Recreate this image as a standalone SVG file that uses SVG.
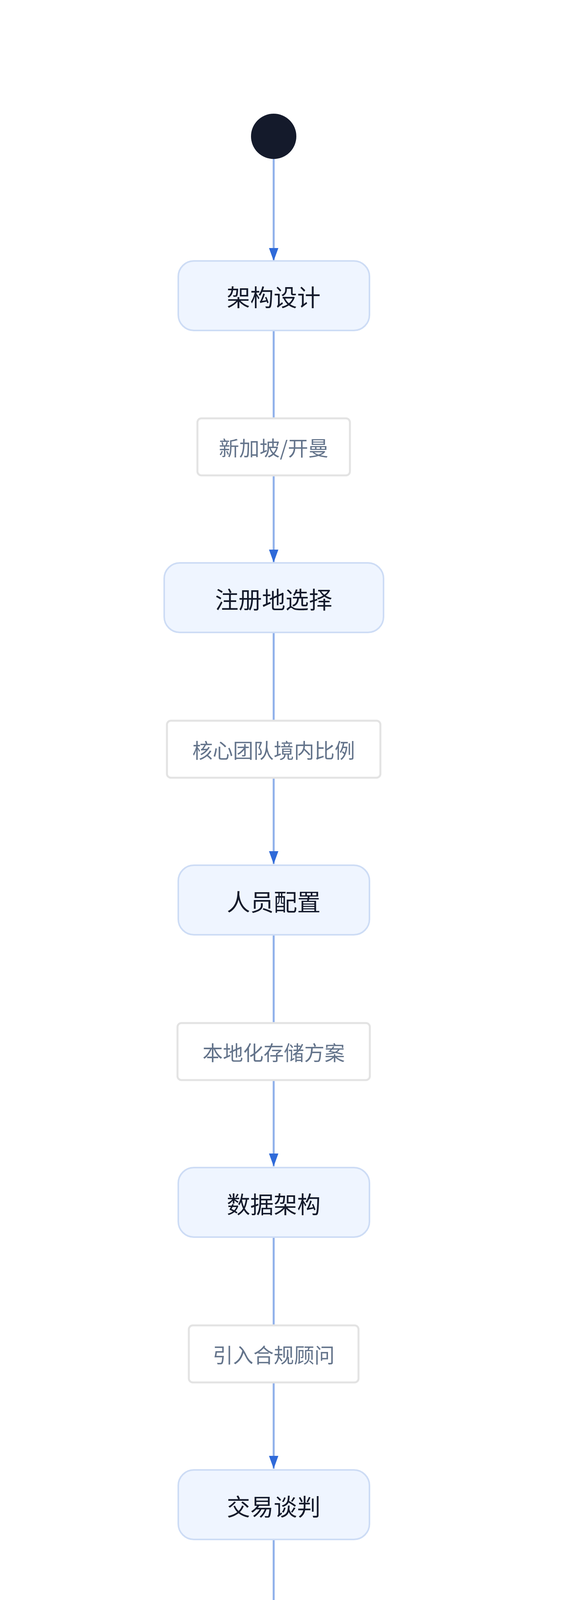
<svg xmlns="http://www.w3.org/2000/svg" width="1504" height="6544" viewBox="0 0 1504 6544">
<style>
.n rect{fill:#eff5ff;stroke:#cddcf5;stroke-width:4}
.n text{font-family:"Noto Sans CJK SC","Noto Sans",sans-serif;font-size:60px;fill:#141a2b;text-anchor:middle;dominant-baseline:central}
.l rect{fill:#fff;stroke:#e3e3e3;stroke-width:5}
.l text{font-family:"Noto Sans CJK SC","Noto Sans",sans-serif;font-size:52px;fill:#64748b;text-anchor:middle;dominant-baseline:central}
.e path{fill:none;stroke:#8fb0ea;stroke-width:5}
</style>
<defs>
<marker id="a" markerUnits="userSpaceOnUse" markerWidth="34" markerHeight="26" refX="33" refY="12" orient="auto"><path d="M0,0 L33,12 L0,24 z" fill="#2f6ad9"/></marker>
</defs>
<rect width="1504" height="6544" fill="#fff"/>
<g class="e">
<path d="M700,407 V668" marker-end="url(#a)"/>
<path d="M700,846 V1071"/><path d="M700,1217 V1440" marker-end="url(#a)"/>
<path d="M700,1620 V1845"/><path d="M700,1991 V2212" marker-end="url(#a)"/>
<path d="M700,2394 V2619"/><path d="M700,2765 V2986" marker-end="url(#a)"/>
<path d="M700,3168 V3393"/><path d="M700,3539 V3760" marker-end="url(#a)"/>
<path d="M700,3942 V4167"/><path d="M700,4313 V4536" marker-end="url(#a)"/>
<path d="M621,4716 V4907 H456 V4942"/><path d="M456,5088 V5315" marker-end="url(#a)"/>
<path d="M782,4716 V4907 H946 V4942"/><path d="M946,5088 V5315" marker-end="url(#a)"/>
<path d="M456,5493 V5744" marker-end="url(#a)"/>
<path d="M946,5493 V5714"/><path d="M946,5860 V6087" marker-end="url(#a)"/>
</g>
<g id="start"><circle cx="700" cy="349" r="58" fill="#141a2b"/></g>
<g id="n1" class="n"><rect x="456" y="668" width="489" height="178" rx="40"/><text x="700" y="757">架构设计</text></g>
<g id="l1" class="l"><rect x="505" y="1071" width="390" height="146" rx="10"/><text x="700" y="1144">新加坡/开曼</text></g>
<g id="n2" class="n"><rect x="420" y="1441" width="561" height="178" rx="40"/><text x="700" y="1531">注册地选择</text></g>
<g id="l2" class="l"><rect x="427" y="1845" width="546" height="146" rx="10"/><text x="700" y="1918">核心团队境内比例</text></g>
<g id="n3" class="n"><rect x="456" y="2215" width="489" height="178" rx="40"/><text x="700" y="2305">人员配置</text></g>
<g id="l3" class="l"><rect x="454" y="2619" width="492" height="146" rx="10"/><text x="700" y="2692">本地化存储方案</text></g>
<g id="n4" class="n"><rect x="456" y="2989" width="489" height="178" rx="40"/><text x="700" y="3079">数据架构</text></g>
<g id="l4" class="l"><rect x="483" y="3393" width="434" height="146" rx="10"/><text x="700" y="3466">引入合规顾问</text></g>
<g id="n5" class="n"><rect x="456" y="3763" width="489" height="178" rx="40"/><text x="700" y="3853">交易谈判</text></g>
<g id="l5" class="l"><rect x="539" y="4167" width="314" height="146" rx="10"/><text x="700" y="4240">主动申报</text></g>
<g id="n6" class="n"><rect x="457" y="4537" width="488" height="178" rx="40"/><text x="700" y="4627">监管审查</text></g>
<g id="l6" class="l"><rect x="297" y="4942" width="314" height="146" rx="10"/><text x="456" y="5015">获得许可</text></g>
<g id="l7" class="l"><rect x="787" y="4942" width="314" height="146" rx="10"/><text x="946" y="5015">撤销交易</text></g>
<g id="n7" class="n"><rect x="283" y="5315" width="346" height="178" rx="40"/><text x="456" y="5405">通过</text></g>
<g id="n8" class="n"><rect x="774" y="5315" width="346" height="178" rx="40"/><text x="946" y="5405">禁止</text></g>
<g id="end"><circle cx="456" cy="5805" r="56" fill="none" stroke="#141a2b" stroke-width="10"/><circle cx="456" cy="5805" r="38" fill="#141a2b"/></g>
<g id="l8" class="l"><rect x="724" y="5714" width="444" height="146" rx="10"/><text x="946" y="5787">腾讯/阿里接盘</text></g>
<g id="n9" class="n"><rect x="702" y="6087" width="488" height="178" rx="40"/><text x="946" y="6177">回购方案</text></g>
</svg>
